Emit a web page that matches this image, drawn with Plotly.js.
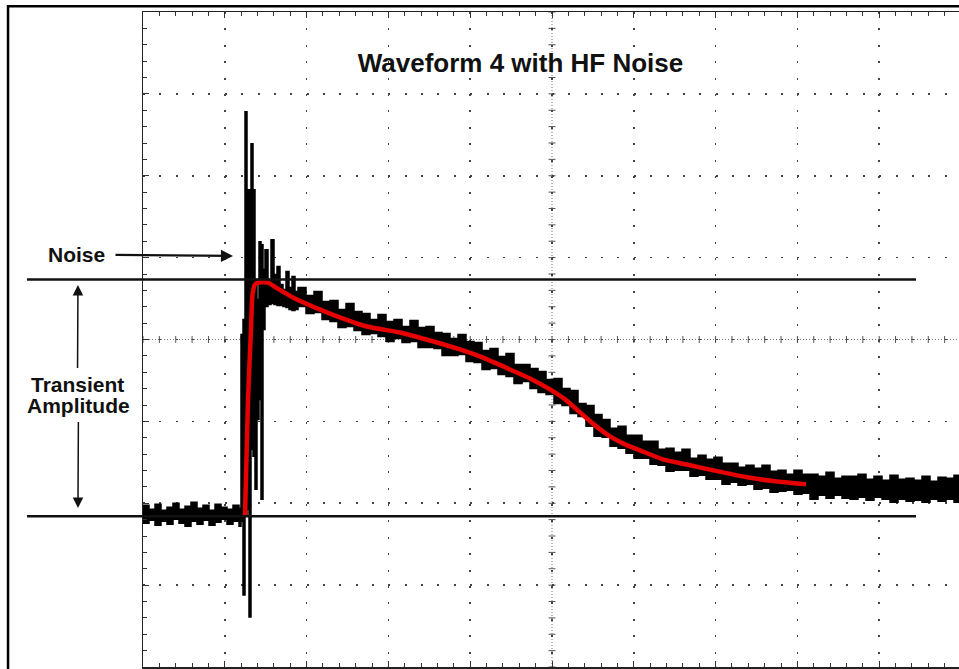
<!DOCTYPE html>
<html>
<head>
<meta charset="utf-8">
<script src="https://cdn.plot.ly/plotly-3.0.1.min.js"></script>
<style>
html,body{margin:0;padding:0;background:#fff;}
#chart{width:959px;height:669px;}
</style>
</head>
<body>
<div id="chart"></div>
<script>
// ---- Data (time in samples, amplitude in mV; 82 mV per division) ----
const noiseX = [0,6,12,18,24,30,36,42,48,54,60,66,72,78,84,90,96,
  98,100,102,104,106,108,110,112,114,116,118,120,122,125,128,131,134,137,140,143,146,149,152,
  155,163,171,179,187,195,203,211,219,227,235,243,251,259,267,275,283,291,299,307,
  315,323,331,339,347,355,363,371,379,387,395,403,411,419,427,435,443,451,459,467,
  475,483,491,499,507,515,523,531,539,547,555,563,571,579,587,595,603,611,619,627,
  635,643,651,659,667,675,683,691,699,707,715,723,731,739,747,755,763,771,779,787,
  795,803,811,816];
const noiseHi = [-166,-170,-165,-171,-168,-164,-170,-167,-163,-169,-166,-171,-165,-168,-170,-166,-169,
  5,20,228,150,150,196,150,60,40,98,95,70,90,60,100,65,73,55,50,68,52,63,48,
  52,44,48,38,39,30,36,28,26,20,25,18,20,13,19,12,13,7,6,1,
  5,-2,-3,-11,-9,-17,-14,-25,-25,-29,-32,-40,-39,-49,-51,-64,-66,-75,-80,-89,
  -87,-96,-96,-102,-102,-110,-109,-113,-110,-119,-116,-120,-118,-124,-124,-128,-126,-129,-126,-132,
  -131,-135,-131,-135,-135,-137,-133,-139,-137,-137,-135,-140,-137,-141,-136,-140,-139,-141,-137,-142,
  -138,-139,-136,-141];
const noiseLo = [-184,-181,-186,-182,-185,-180,-184,-187,-182,-185,-181,-186,-183,-180,-185,-182,-187,
  -182,-256,-175,-170,-278,-110,-117,-150,-80,-60,-160,10,33,35,36,35,34,34,33,32,30,29,30,
  33,26,27,20,18,12,13,9,5,6,3,-2,1,-3,-2,-8,-8,-9,-16,-16,
  -15,-22,-23,-30,-29,-35,-37,-44,-42,-49,-53,-55,-64,-66,-74,-77,-87,-97,-98,-107,
  -109,-114,-119,-119,-125,-126,-132,-131,-131,-137,-136,-140,-140,-145,-143,-146,-145,-150,-149,-153,
  -152,-151,-155,-154,-160,-156,-159,-156,-159,-160,-158,-161,-158,-160,-163,-160,-162,-161,-163,-160,
  -162,-160,-163,-162];
const fitX = [102,105,108,109.5,112,115,125,133,154,187,224,257,287,317,337,367,387,407,422,437,452,467,482,497,520,547,570,604,632,663];
const fitY = [-176,-60,10,45,55,57,57,52,40,26,13,7,-1,-10,-17,-30,-39,-50,-60,-73,-86,-97,-105,-111,-120,-126,-131,-138,-142,-145];
const levelTop = 60;    // transient peak level
const levelBase = -177; // baseline level
const titleText = 'Waveform 4 with HF Noise';

// ---- Layout helpers ----
const X_RANGE = [0, 816];
const Y_RANGE = [-328, 328];
const DIV_X = 81.8, DIV_Y = 82;
const FONT = 'Liberation Sans, Arial, Helvetica, sans-serif';
const yPaper = v => (v - Y_RANGE[0]) / (Y_RANGE[1] - Y_RANGE[0]);

const traces = [
  {x: noiseX, y: noiseHi, mode: 'lines', line: {color: '#000', width: 1.5, shape: 'hv', simplify: false}, hoverinfo: 'skip', showlegend: false},
  {x: noiseX, y: noiseLo, mode: 'lines', line: {color: '#000', width: 1.5, shape: 'hv', simplify: false}, fill: 'tonexty', fillcolor: '#000', hoverinfo: 'skip', showlegend: false},
  {x: fitX, y: fitY, mode: 'lines', line: {color: '#e60000', width: 4.5, shape: 'spline', smoothing: 0.6}, hoverinfo: 'skip', showlegend: false}
];

const shapes = [];
// center crosshair (dense dotted with minor ticks)
const cx = 5 * DIV_X;
shapes.push({type: 'line', xref: 'x', yref: 'y', x0: X_RANGE[0], x1: X_RANGE[1], y0: 0, y1: 0, line: {color: '#777', width: 1, dash: '1px,2px'}, layer: 'below'});
shapes.push({type: 'line', xref: 'x', yref: 'y', x0: cx, x1: cx, y0: Y_RANGE[0], y1: Y_RANGE[1], line: {color: '#777', width: 1, dash: '1px,2px'}, layer: 'below'});
for (let i = 0; i <= 50; i++) {
  const tx = i * DIV_X / 5;
  shapes.push({type: 'line', xref: 'x', yref: 'y', x0: tx, x1: tx, y0: -3.5, y1: 3.5, line: {color: '#555', width: 1}, layer: 'below'});
}
for (let j = 0; j <= 40; j++) {
  const ty = Y_RANGE[0] + j * DIV_Y / 5;
  shapes.push({type: 'line', xref: 'x', yref: 'y', x0: cx - 3.5, x1: cx + 3.5, y0: ty, y1: ty, line: {color: '#555', width: 1}, layer: 'below'});
}
// amplitude reference lines
[levelTop, levelBase].forEach(v => {
  shapes.push({type: 'line', xref: 'paper', yref: 'paper', x0: -0.1422, x1: 0.9473, y0: yPaper(v), y1: yPaper(v), line: {color: '#111', width: 2.5}, layer: 'above'});
});
// outer frame
shapes.push({type: 'rect', xref: 'paper', yref: 'paper', x0: -0.1654, x1: 1.3, y0: -0.3, y1: 1.0088, line: {color: '#000', width: 2.5}, fillcolor: 'rgba(0,0,0,0)', layer: 'above'});

const annotations = [
  {xref: 'paper', yref: 'paper', x: 0.1103, y: 0.6275, text: '<b>Noise</b>', showarrow: true,
   axref: 'pixel', ayref: 'pixel', ax: -156.5, ay: -1.5, arrowhead: 2, arrowsize: 1.05, arrowwidth: 2.3,
   arrowcolor: '#111', startstandoff: 9, font: {family: FONT, size: 21, color: '#111'}},
  {xref: 'paper', yref: 'paper', x: -0.0797, y: 0.5832, text: '<b>Transient</b>', showarrow: true,
   axref: 'pixel', ayref: 'pixel', ax: -0.5, ay: 99, arrowhead: 2, arrowsize: 1.4, arrowwidth: 1.5,
   arrowcolor: '#111', startstandoff: 3, font: {family: FONT, size: 21, color: '#111'}},
  {xref: 'paper', yref: 'paper', x: -0.0797, y: 0.2427, text: '<b>Amplitude</b>', showarrow: true,
   axref: 'pixel', ayref: 'pixel', ax: 0.5, ay: -103, arrowhead: 2, arrowsize: 1.4, arrowwidth: 1.5,
   arrowcolor: '#111', startstandoff: 4, font: {family: FONT, size: 21, color: '#111'}}
];

const axisCommon = {
  showticklabels: false, zeroline: false, showgrid: true, gridcolor: '#444', gridwidth: 1.6,
  showline: true, linecolor: '#222', linewidth: 1.5, ticks: 'inside', ticklen: 6, tickcolor: '#333', tickwidth: 1,
  fixedrange: true
};

const layout = {
  width: 959, height: 669,
  margin: {l: 143, r: 0, t: 12, b: 2, pad: 0},
  paper_bgcolor: '#fff', plot_bgcolor: '#fff',
  showlegend: false,
  title: {text: '<b>' + titleText + '</b>', font: {family: FONT, size: 26, color: '#111'},
          xref: 'paper', x: 0.4626, xanchor: 'center', yref: 'container', y: 0.9058, yanchor: 'middle'},
  xaxis: Object.assign({}, axisCommon, {range: X_RANGE, tick0: 0, dtick: DIV_X, griddash: '2px,14.4px', mirror: 'ticks',
    minor: {dtick: DIV_X / 5, tick0: 0, ticks: 'inside', ticklen: 4, tickcolor: '#333', showgrid: false}}),
  yaxis: Object.assign({}, axisCommon, {range: Y_RANGE, tick0: 0, dtick: DIV_Y, griddash: '2px,14.36px', mirror: false,
    minor: {dtick: DIV_Y / 5, tick0: 0, ticks: 'inside', ticklen: 4, tickcolor: '#333', showgrid: false}}),
  shapes: shapes,
  annotations: annotations
};

Plotly.newPlot('chart', traces, layout, {displayModeBar: false, staticPlot: true});
</script>
</body>
</html>
